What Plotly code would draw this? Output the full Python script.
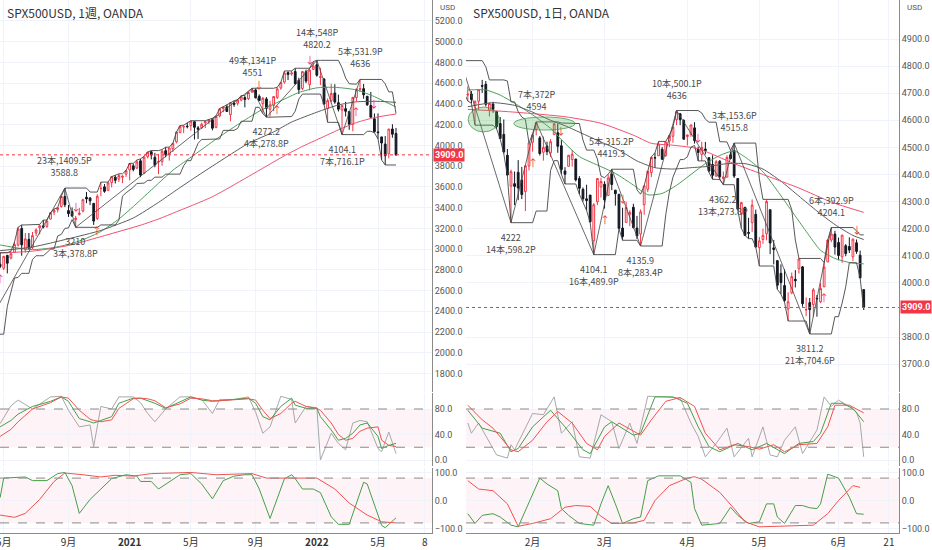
import pandas as pd
import plotly.graph_objects as go

# ---------------- weekly chart (1週) ----------------
# bar index 0 = week of 2020-04-20; negative indexes are the weeks just left of the view
w_idx = list(range(-4, 112))
w_open = [2350, 2558, 2578, 2782,
          2846, 2854, 2815, 2939, 2913, 2969, 3038, 3199, 2994, 3094,
          3018, 3155, 3205, 3224, 3219, 3289, 3356, 3380, 3411, 3508,
          3371, 3363, 3285, 3334, 3367, 3500, 3493, 3441, 3296, 3583,
          3600, 3566, 3641, 3694, 3675, 3693, 3723, 3764, 3803, 3781,
          3851, 3731, 3892, 3939, 3885, 3842, 3844, 3949, 3916, 3969,
          4034, 4124, 4179, 4185, 4191, 4228, 4169, 4170, 4217, 4229,
          4248, 4173, 4284, 4356, 4372, 4296, 4409, 4406, 4437, 4461,
          4450, 4514, 4535, 4474, 4402, 4448, 4349, 4385, 4463, 4553,
          4610, 4702, 4689, 4712, 4628, 4548, 4710, 4587, 4733, 4778,
          4655, 4640, 4356, 4431, 4505, 4412, 4340, 4354, 4327, 4202,
          4462, 4541, 4547, 4474, 4385, 4256, 4130, 4082, 4013, 3920,
          4158, 4115]
w_high = [2637, 2641, 2818, 2880,
          2870, 2965, 2934, 2945, 2980, 3068, 3211, 3233, 3155, 3155,
          3165, 3200, 3238, 3280, 3279, 3352, 3387, 3399, 3509, 3588.8,
          3425, 3402, 3320, 3397, 3486, 3550, 3502, 3441, 3529, 3646,
          3628, 3644, 3699, 3712, 3726, 3711, 3760, 3827, 3824, 3859,
          3870, 3894, 3937, 3950, 3928, 3914, 3960, 3983, 3978, 4020,
          4130, 4191, 4195, 4219, 4238, 4236, 4187, 4220, 4238, 4250,
          4262, 4286, 4356, 4372, 4393, 4415, 4430, 4441, 4481, 4480,
          4513, 4551, 4549, 4492, 4466, 4466, 4429, 4475, 4560, 4608,
          4718, 4714, 4718, 4744, 4652, 4713, 4731, 4740, 4808, 4820.2,
          4749, 4650, 4453, 4594, 4590, 4490, 4385, 4419.3, 4327, 4465,
          4546, 4636, 4593, 4475, 4515.8, 4308, 4308, 4082, 4090, 4158,
          4204.1, 4168]
w_low = [2179.3, 2447, 2575, 2721,
         2727, 2816, 2797, 2766, 2900, 2969, 3025, 2936, 2966, 2999,
         3001, 3127, 3142, 3200, 3204, 3284, 3327, 3354, 3400, 3405,
         3310, 3310, 3210, 3323, 3354, 3443, 3424, 3233, 3279, 3511,
         3543, 3565, 3595, 3633, 3647, 3636, 3696, 3663, 3750, 3772,
         3694, 3725, 3874, 3865, 3789, 3723, 3804, 3885, 3853, 3936,
         4020, 4118, 4118, 4164, 4141, 4057, 4062, 4158, 4168, 4206,
         4145, 4164, 4270, 4320, 4322, 4233, 4372, 4385, 4425, 4367,
         4438, 4507, 4453, 4427, 4306, 4272.2, 4278, 4330, 4447, 4537,
         4595, 4630, 4672, 4585, 4495, 4532, 4600, 4531, 4733, 4662,
         4582, 4395, 4222, 4415, 4401, 4327, 4104.1, 4279, 4150, 4135.9,
         4424, 4517, 4450, 4381, 4268, 4122, 4062, 3859, 3811.2, 3875,
         4074, 3900]
w_close = [2541, 2489, 2790, 2875,
           2837, 2831, 2930, 2864, 2955, 3044, 3194, 3041, 3098, 3009,
           3130, 3185, 3225, 3215, 3271, 3351, 3373, 3397, 3508, 3427,
           3341, 3319, 3298, 3348, 3477, 3484, 3465, 3270, 3509, 3585,
           3557, 3638, 3699, 3663, 3709, 3703, 3756, 3825, 3768, 3841,
           3714, 3887, 3934, 3907, 3811, 3842, 3943, 3913, 3975, 4020,
           4129, 4185, 4180, 4181, 4233, 4174, 4156, 4204, 4230, 4247,
           4166, 4281, 4352, 4370, 4327, 4412, 4395, 4437, 4468, 4442,
           4509, 4535, 4459, 4433, 4455, 4357, 4391, 4471, 4545, 4605,
           4698, 4683, 4698, 4595, 4538, 4712, 4620, 4725, 4766, 4677,
           4662, 4398, 4432, 4500, 4418, 4349, 4385, 4329, 4204, 4463,
           4543, 4546, 4488, 4392, 4272, 4132, 4123, 4023, 3901, 4158,
           4108, 3909]
w_tick_pos = [2, 20, 37, 54, 72, 89, 106, 119]
w_tick_text = ["5月", "9月", "<b>2021</b>", "5月", "9月", "<b>2022</b>", "5月", "8"]
w_price_ticks = [1800, 2000, 2200, 2400, 2600, 2800, 3000, 3200, 3400, 3600, 3800,
                 4000, 4200, 4400, 4600, 4800, 5000, 5200]

w_piv_idx = [-4, 19, 22, 71, 75, 89, 96, 101]
w_piv_price = [2179.3, 3588.8, 3210, 4551, 4272.2, 4820.2, 4104.1, 4636]

# moving averages
w_ma1_x = [1, 6, 10, 15, 20, 24, 29, 34, 38, 43, 49, 55, 61, 67, 73, 79, 84, 89, 94, 100, 105, 111]
w_ma1 = [3040, 3010, 2995, 3010, 3045, 3090, 3170, 3290, 3410, 3570, 3760, 3910, 4060, 4200,
         4330, 4430, 4510, 4555, 4560, 4535, 4470, 4370]
w_ma2_x = [1, 10, 20, 29, 38, 45, 50, 56, 64, 70, 77, 82, 89, 95, 100, 106, 111]
w_ma2 = [2985, 3020, 3100, 3180, 3300, 3450, 3570, 3710, 3890, 4020, 4130, 4225, 4320, 4390,
         4420, 4425, 4415]
w_ma3_x = [1, 10, 20, 30, 40, 45, 50, 55, 60, 65, 70, 75, 80, 85, 90, 95, 100, 105, 111]
w_ma3 = [2963, 2980, 3035, 3130, 3230, 3290, 3360, 3430, 3505, 3600, 3700, 3800, 3900, 3990,
         4070, 4150, 4220, 4268, 4303]

# stochastics (fast %K gray, %D green, slow %D red)
w_sto_x = [1, 4, 6, 10, 15, 18, 20, 23, 26, 27, 29, 32, 34, 38, 40, 42, 44, 47, 51, 54, 57, 60,
           62, 66, 70, 72, 74, 76, 79, 82, 83, 86, 89, 90, 93, 95, 97, 99, 101, 103, 106, 107, 109, 111]
w_sto_k = [57, 85, 94, 80, 99, 100, 78, 52, 55, 21, 84, 80, 99, 99, 90, 73, 60, 80, 99, 99, 95, 73,
           95, 95, 99, 75, 42, 52, 100, 95, 58, 84, 82, 0, 42, 26, 16, 58, 62, 60, 18, 13, 44, 10]
w_sto_d = [52, 62, 72, 84, 92, 99, 92, 65, 60, 58, 62, 68, 89, 97, 97, 93, 89, 81, 92, 99, 94, 92,
           93, 95, 97, 89, 68, 63, 84, 97, 86, 81, 81, 68, 47, 31, 34, 42, 55, 58, 37, 18, 23, 26]
w_sto_sd = [37, 48, 60, 80, 90, 99, 97, 78, 64, 62, 60, 63, 81, 96, 97, 96, 93, 82, 88, 97, 96, 93,
            93, 95, 96, 94, 78, 65, 73, 89, 92, 84, 81, 78, 58, 40, 31, 34, 45, 50, 52, 31, 23, 21]

# RCI short (green) / long (red)
w_rci1_x = [1, 2, 8, 10, 14, 17, 19, 21, 23, 26, 29, 32, 36, 39, 40, 43, 45, 47, 51, 54, 57, 60,
            63, 66, 69, 71, 73, 76, 78, 80, 82, 83, 85, 88, 90, 93, 95, 98, 102, 103, 107, 108, 111]
w_rci1 = [10, 80, 84, 71, 71, 96, 100, 53, -46, 4, 41, 78, 92, 87, 68, 68, 41, 59, 92, 96, 59, 6,
          71, 87, 92, 92, 41, -64, 4, 78, 92, 78, 41, 41, 28, -58, -85, -85, 65, 59, -89, -97, -62]
w_rci2_x = [1, 5, 8, 12, 16, 19, 24, 29, 33, 38, 43, 54, 61, 71, 75, 84, 89, 94, 98, 103, 107, 111]
w_rci2 = [-52, -60, -46, 4, 68, 98, 92, 84, 90, 87, 96, 100, 92, 96, 80, 80, 80, 41, -9, -52, -76, -80]

w_up_arrows = [1, 28, 78, 100]
w_dn_arrows = [22, 73, 87, 105]

# ---------------- daily chart (1日) ----------------
# bar index 0 = 2022-01-03 (CFD bars also on 1/17, 2/21, 5/30)
d_idx = list(range(0, 114))
d_open = [4778, 4804, 4788, 4693, 4697, 4655, 4670, 4728, 4733, 4637,
          4660, 4632, 4588, 4548, 4471, 4357, 4366, 4408, 4380, 4337,
          4431, 4519, 4566, 4535, 4482, 4505, 4480, 4547, 4554, 4506,
          4413, 4430, 4455, 4457, 4385, 4345, 4310, 4324, 4155, 4299,
          4354, 4364, 4322, 4401, 4342, 4327, 4202, 4223, 4253, 4279,
          4202, 4180, 4288, 4345, 4407, 4462, 4469, 4493, 4470, 4523,
          4541, 4602, 4624, 4599, 4540, 4547, 4572, 4494, 4474, 4494,
          4462, 4437, 4394, 4449, 4385, 4390, 4473, 4489, 4385, 4255,
          4279, 4186, 4222, 4253, 4130, 4160, 4181, 4270, 4129, 4082,
          4035, 3990, 3903, 3963, 4013, 4052, 4059, 3900, 3927, 3920,
          3943, 3930, 3985, 4077, 4158, 4180, 4149, 4096, 4137, 4134,
          4096, 4148, 4102, 3975]
d_high = [4797, 4820.2, 4798, 4725, 4708, 4673, 4714, 4749, 4745, 4666,
          4668, 4632, 4612, 4603, 4494, 4418, 4411, 4453, 4428, 4432,
          4516, 4550, 4594, 4542, 4540, 4521, 4531, 4590, 4588, 4527,
          4427, 4472, 4490, 4457, 4394, 4352, 4362, 4324, 4294, 4385,
          4388, 4375, 4401, 4419.3, 4343, 4327, 4277, 4299, 4268, 4292,
          4247, 4271, 4358, 4412, 4465, 4480, 4522, 4501, 4520, 4546,
          4575, 4636, 4627, 4604, 4546, 4583, 4593, 4503, 4521, 4520,
          4464, 4471, 4453, 4453, 4411, 4471, 4489, 4515.8, 4385, 4299,
          4279, 4240, 4308, 4270, 4169, 4200, 4308, 4270, 4158, 4082,
          4068, 4050, 3965, 4038, 4047, 4090, 4062, 3946, 3944, 3981,
          3955, 3999, 4075, 4158, 4204.1, 4192, 4167, 4177, 4143, 4168,
          4164, 4160, 4119, 3975]
d_low = [4758, 4774, 4700, 4671, 4663, 4582, 4638, 4701, 4651, 4614,
         4628, 4568, 4531, 4477, 4395, 4222, 4287, 4305, 4309, 4265,
         4415, 4484, 4544, 4470, 4451, 4471, 4465, 4547, 4480, 4401,
         4365, 4430, 4429, 4374, 4327, 4300, 4267, 4223, 4104.1, 4287,
         4315, 4274, 4322, 4342, 4285, 4199, 4157, 4223, 4209, 4200,
         4162, 4135.9, 4251, 4335, 4390, 4424, 4469, 4455, 4465, 4501,
         4517, 4582, 4582, 4530, 4507, 4539, 4514, 4450, 4450, 4474,
         4408, 4382, 4392, 4381, 4362.2, 4390, 4455, 4387, 4268, 4201,
         4175, 4163, 4188, 4132, 4062, 4144, 4157, 4106, 4068, 3976,
         3958, 3928, 3859, 3958, 3983, 4034, 3912, 3877, 3811.2, 3875,
         3875, 3925, 3985, 4077, 4150, 4104, 4083, 4074, 4098, 4110,
         4080, 4107, 4018, 3900]
d_close = [4797, 4793, 4701, 4696, 4677, 4670, 4713, 4726, 4659, 4662,
           4640, 4577, 4533, 4483, 4398, 4410, 4356, 4350, 4326, 4432,
           4516, 4546, 4589, 4477, 4500, 4484, 4521, 4587, 4504, 4418,
           4401, 4471, 4475, 4380, 4349, 4310, 4304, 4225, 4288, 4385,
           4374, 4306, 4387, 4363, 4329, 4201, 4171, 4278, 4260, 4204,
           4173, 4262, 4358, 4412, 4463, 4461, 4512, 4456, 4520, 4543,
           4575, 4632, 4602, 4530, 4546, 4583, 4525, 4481, 4500, 4488,
           4413, 4397, 4447, 4392, 4391, 4463, 4459, 4394, 4272, 4296,
           4175, 4183, 4287, 4132, 4155, 4175, 4300, 4147, 4123, 3991,
           4001, 3935, 3930, 4023, 4008, 4088, 3923, 3901, 3901, 3974,
           3941, 3979, 4058, 4158, 4180, 4132, 4101, 4176, 4108, 4121,
           4161, 4116, 4018, 3909]
d_tick_pos = [21, 41, 64, 84, 106, 120]
d_tick_text = ["2月", "3月", "4月", "5月", "6月", "21"]
# 3900.0 sits under the last-price tag, so it is not listed
d_price_ticks = [3700, 3800, 4000, 4100, 4200, 4300, 4400, 4500, 4600, 4700, 4800, 4900]

d_piv_idx = [1, 15, 22, 38, 43, 51, 61, 74, 77, 98, 104]
d_piv_price = [4820.2, 4222, 4594, 4104.1, 4419.3, 4135.9, 4636, 4362.2, 4515.8, 3811.2, 4204.1]

d_ma1_x = [3, 8, 12, 16, 21, 26, 30, 34, 40, 44, 49, 53, 57, 61, 65, 69, 73, 77, 81, 85, 89, 93,
           97, 101, 105, 109, 113]
d_ma1 = [4712, 4712, 4693, 4663, 4620, 4570, 4515, 4466, 4429, 4404, 4361, 4325, 4330, 4360, 4400,
         4440, 4470, 4487, 4455, 4410, 4340, 4265, 4190, 4120, 4090, 4075, 4070]
d_ma2_x = [3, 10, 16, 21, 26, 30, 35, 40, 45, 50, 55, 60, 65, 70, 75, 80, 85, 90, 95, 100, 105,
           110, 113]
d_ma2 = [4650, 4665, 4655, 4630, 4600, 4580, 4550, 4520, 4490, 4450, 4425, 4420, 4425, 4430, 4440,
         4440, 4420, 4375, 4320, 4265, 4215, 4175, 4160]
d_ma3_x = [3, 14, 30, 40, 49, 54, 60, 67, 77, 86, 95, 104, 113]
d_ma3 = [4640, 4632, 4613, 4589, 4545, 4515, 4508, 4495, 4440, 4395, 4350, 4298, 4260]

d_sto_k_x = [3, 4, 6, 8, 11, 14, 15, 16, 21, 24, 27, 29, 32, 34, 37, 40, 43, 45, 48, 50, 53, 58,
             62, 65, 67, 69, 72, 75, 77, 81, 82, 85, 87, 89, 91, 94, 96, 100, 102, 104, 106, 109,
             111, 112, 113]
d_sto_k = [58, 42, 58, 37, 8, 3, 24, 16, 73, 71, 99, 42, 60, 5, 3, 71, 60, 18, 58, 26, 100, 99,
           97, 58, 37, 5, 26, 50, 5, 34, 5, 52, 8, 5, 31, 52, 10, 47, 99, 84, 94, 84, 75, 58, 5]
d_sto_d_x = [3, 7, 12, 15, 17, 21, 26, 30, 35, 37, 41, 43, 49, 51, 55, 60, 64, 67, 70, 73, 78, 82,
             86, 91, 95, 99, 101, 104, 107, 110, 113]
d_sto_d = [78, 50, 42, 13, 18, 52, 78, 52, 16, 10, 52, 60, 39, 42, 99, 99, 89, 52, 21, 13, 26, 16,
           26, 10, 26, 29, 42, 89, 89, 81, 60]
d_sto_sd_x = [3, 7, 10, 15, 17, 21, 25, 28, 32, 36, 39, 41, 45, 51, 54, 58, 62, 66, 69, 73, 77, 81,
              84, 88, 91, 95, 100, 103, 105, 109, 113]
d_sto_sd = [86, 63, 50, 16, 13, 31, 60, 76, 58, 26, 16, 37, 58, 39, 63, 92, 98, 84, 42, 16, 24, 21,
            17, 24, 13, 24, 26, 52, 86, 86, 74]

d_rci1_x = [3, 5, 7, 10, 12, 15, 17, 21, 23, 25, 28, 29, 31, 34, 38, 40, 42, 44, 46, 49, 51, 53,
            56, 62, 65, 66, 68, 73, 76, 78, 81, 84, 86, 88, 89, 91, 94, 96, 98, 100, 101, 103, 106,
            109, 111, 113]
d_rci1 = [-47, -82, -53, -47, -59, -88, -94, 24, 80, 59, 35, -29, -53, -82, -88, -12, 53, -12, -82,
          -65, -59, 71, 88, 88, 65, -29, -88, -82, -24, -53, -82, -76, -12, -12, -59, -82, -18, -18,
          -26, -29, -12, 94, 80, 12, -47, -49]
d_rci2_x = [3, 6, 10, 14, 17, 21, 26, 30, 33, 37, 40, 43, 49, 52, 55, 59, 64, 66, 68, 73, 77, 80,
            84, 91, 99, 103, 106, 110, 112]
d_rci2 = [71, 41, 35, -12, -92, -82, -65, -24, -18, -21, -56, -82, -80, -71, 0, 53, 80, 85, 76, 29,
          -29, -76, -94, -92, -88, -47, 0, 53, 47]

d_up_arrows = [21, 41, 102]
d_dn_arrows = [29, 46, 67, 111]
# hand-drawn green ellipses: (x0, x1, y0, y1)
d_ellipses = [(3.1, 11.7, 4557, 4649), (15.8, 32.8, 4564, 4612)]

last_price = 3909.0
channel_len = 7

RED = "#f23645"
BLACK = "#131722"
GRID = "#f0f3fa"
TXT = "#4a4a4a"
FONT = "Noto Sans CJK JP"
NUM_FONT = "Roboto"

fig = go.Figure()


def ax(n):
    return "" if n == 1 else str(n)


def draw_side(n0, idx, o, h, l, c, piv_idx, piv_price, mas, sto, rci, ups, downs):
    xa, ya = "x" + ax(n0), "y" + ax(n0)
    # candles
    fig.add_trace(go.Candlestick(
        x=idx, open=o, high=h, low=l, close=c, xaxis=xa, yaxis=ya,
        increasing=dict(line=dict(color=RED, width=1), fillcolor="white"),
        decreasing=dict(line=dict(color=BLACK, width=1), fillcolor=BLACK),
        whiskerwidth=0, hoverinfo="skip"))
    # moving averages
    for (mx, my), col in zip(mas, ["#4f9d5b", "#5d5d5d", "#f0506e"]):
        fig.add_trace(go.Scatter(x=mx, y=my, mode="lines", xaxis=xa, yaxis=ya,
                                 line=dict(color=col, width=1, shape="spline", smoothing=0.6)))
    # price channel
    hs = pd.Series(h).rolling(channel_len, min_periods=1).max()
    ls = pd.Series(l).rolling(channel_len, min_periods=1).min()
    for s in (hs, ls):
        fig.add_trace(go.Scatter(x=idx, y=s, mode="lines", xaxis=xa, yaxis=ya,
                                 line=dict(color="#444444", width=0.9)))
    # zigzag
    fig.add_trace(go.Scatter(x=piv_idx, y=piv_price, mode="lines", xaxis=xa, yaxis=ya,
                             line=dict(color="#444444", width=0.8)))
    for k in range(1, len(piv_idx)):
        n = piv_idx[k] - piv_idx[k - 1]
        pts = round(abs(piv_price[k] - piv_price[k - 1]), 1)
        count = f"{n}本,{pts:g}P"
        high = piv_price[k] > piv_price[k - 1]
        text = f"{count}<br>{piv_price[k]:g}" if high else f"{piv_price[k]:g}<br>{count}"
        fig.add_annotation(x=piv_idx[k], y=piv_price[k], xref=xa, yref=ya, text=text,
                           showarrow=False, yanchor="bottom" if high else "top",
                           yshift=7 if high else -6, font=dict(size=9, color=TXT))
    # signal arrows
    for i in ups:
        fig.add_annotation(x=i, y=l[idx.index(i)], xref=xa, yref=ya, text="↑", showarrow=False,
                           yanchor="top", yshift=-1, font=dict(size=10, color=RED))
    for i in downs:
        fig.add_annotation(x=i, y=h[idx.index(i)], xref=xa, yref=ya, text="↓", showarrow=False,
                           yanchor="bottom", yshift=0, font=dict(size=10, color=RED))
    # last price line
    fig.add_shape(type="line", xref=xa + " domain", yref=ya, x0=0, x1=1, y0=last_price,
                  y1=last_price, line=dict(color=RED, width=1, dash="dot"))

    # stochastic pane
    xs, ys = "x" + ax(n0 + 1), "y" + ax(n0 + 1)
    fig.add_shape(type="rect", xref=xs + " domain", yref=ys, x0=0, x1=1, y0=20, y1=80,
                  fillcolor="rgba(233,30,99,0.05)", line=dict(width=0), layer="below")
    for lv in (20, 80):
        fig.add_shape(type="line", xref=xs + " domain", yref=ys, x0=0, x1=1, y0=lv, y1=lv,
                      line=dict(color="#8a8a8a", width=1, dash="dash"))
    for (sx, sy), col in zip(sto, ["#a8a8a8", "#43a047", "#ef5350"]):
        fig.add_trace(go.Scatter(x=sx, y=sy, mode="lines", xaxis=xs, yaxis=ys,
                                 line=dict(color=col, width=1)))

    # RCI pane
    xr, yr = "x" + ax(n0 + 2), "y" + ax(n0 + 2)
    fig.add_shape(type="rect", xref=xr + " domain", yref=yr, x0=0, x1=1, y0=-80, y1=80,
                  fillcolor="rgba(233,30,99,0.05)", line=dict(width=0), layer="below")
    for lv in (-80, 80):
        fig.add_shape(type="line", xref=xr + " domain", yref=yr, x0=0, x1=1, y0=lv, y1=lv,
                      line=dict(color="#8a8a8a", width=1, dash="dash"))
    for (rx, ry), col in zip(rci, ["#43a047", "#ef5350"]):
        fig.add_trace(go.Scatter(x=rx, y=ry, mode="lines", xaxis=xr, yaxis=yr,
                                 line=dict(color=col, width=1)))


draw_side(1, w_idx, w_open, w_high, w_low, w_close, w_piv_idx, w_piv_price,
          [(w_ma1_x, w_ma1), (w_ma2_x, w_ma2), (w_ma3_x, w_ma3)],
          [(w_sto_x, w_sto_k), (w_sto_x, w_sto_d), (w_sto_x, w_sto_sd)],
          [(w_rci1_x, w_rci1), (w_rci2_x, w_rci2)], w_up_arrows, w_dn_arrows)
draw_side(4, d_idx, d_open, d_high, d_low, d_close, d_piv_idx, d_piv_price,
          [(d_ma1_x, d_ma1), (d_ma2_x, d_ma2), (d_ma3_x, d_ma3)],
          [(d_sto_k_x, d_sto_k), (d_sto_d_x, d_sto_d), (d_sto_sd_x, d_sto_sd)],
          [(d_rci1_x, d_rci1), (d_rci2_x, d_rci2)], d_up_arrows, d_dn_arrows)

for x0, x1, y0, y1 in d_ellipses:
    fig.add_shape(type="circle", xref="x4", yref="y4", x0=x0, x1=x1, y0=y0, y1=y1,
                  fillcolor="rgba(76,175,80,0.28)", line=dict(color="rgba(56,142,60,0.7)", width=1))

W, H = 932, 550
x_dom = [[0, 432 / W], [466 / W, 899 / W]]
x_rng = [[0.97, 121], [2.5, 122.8]]
y_doms = [[1 - 392 / H, 1], [1 - 466 / H, 1 - 393 / H], [1 - 533 / H, 1 - 468 / H]]
price_rng = [[1622, 5402], [3597, 5044]]
price_ticks = [w_price_ticks, d_price_ticks]
tick_pos = [w_tick_pos, d_tick_pos]
tick_text = [w_tick_text, d_tick_text]

lay = {}
for s in range(2):
    for p in range(3):
        n = s * 3 + p + 1
        lay["xaxis" + ax(n)] = dict(
            domain=x_dom[s], range=x_rng[s], anchor="y" + ax(n),
            matches=None if p == 0 else "x" + ax(s * 3 + 1),
            tickvals=tick_pos[s], ticktext=tick_text[s], showticklabels=(p == 2),
            showgrid=True, gridcolor=GRID, zeroline=False, ticks="", ticklen=0,
            showline=(p == 2), linecolor="#8a8a8a", rangeslider=dict(visible=False),
            automargin=False, ticklabeloverflow="allow",
            tickfont=dict(size=10, color="#333"))
        yax = dict(domain=y_doms[p], anchor="x" + ax(n), side="right", showgrid=True,
                   gridcolor=GRID, zeroline=False, showline=True, linecolor="#8a8a8a",
                   tickformat=".1f", tickfont=dict(size=9, color="#555", family=NUM_FONT),
                   ticks="", ticklen=0, automargin=False)
        if p == 0:
            yax.update(range=price_rng[s], tickvals=price_ticks[s])
        elif p == 1:
            yax.update(range=[-9.4, 105.1], tickvals=[0, 40, 80])
        else:
            yax.update(range=[-116, 116], tickvals=[-100, 0, 100])
        lay["yaxis" + ax(n)] = yax

fig.update_layout(**lay)

# titles, currency marks and last price tags
for s, title in enumerate(["SPX500USD, 1週, OANDA", "SPX500USD, 1日, OANDA"]):
    fig.add_annotation(xref="paper", yref="paper", x=x_dom[s][0] + 5 / W, y=1 - 12 / H,
                       xanchor="left", yanchor="middle", text=title, showarrow=False,
                       font=dict(size=12, color="#333"))
    fig.add_annotation(xref="paper", yref="paper", x=x_dom[s][1] + 6 / W, y=1 - 8 / H,
                       xanchor="left", yanchor="middle", text="USD", showarrow=False,
                       font=dict(size=8, color="#555", family=NUM_FONT))
    fig.add_annotation(xref="paper", yref="y" + ax(s * 3 + 1), x=x_dom[s][1] + 1 / W,
                       y=last_price, xanchor="left", yanchor="middle",
                       text=f"<b>{last_price:.1f}</b>", showarrow=False, bgcolor=RED,
                       borderpad=1, font=dict(size=9, color="white", family=NUM_FONT))

fig.update_layout(width=W, height=H, margin=dict(l=0, r=0, t=0, b=0),
                  plot_bgcolor="white", paper_bgcolor="white", showlegend=False,
                  font=dict(family=FONT))

# the page's default body margin would push the 932x550 figure off the window
fig.write_html("out.html", config={"displayModeBar": False},
               post_script="document.body.style.margin='0';")
